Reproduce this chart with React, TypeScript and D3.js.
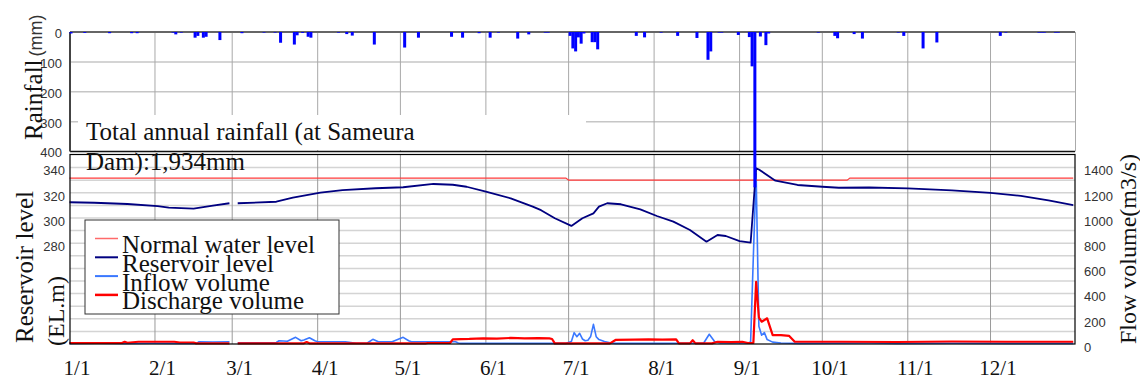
import React from "react";
import * as d3 from "d3";

const W = 1140;
const H = 380;

// x axis: day index from Jan 1 (0) to Dec 31 (364)
const monthLabels = ["1/1", "2/1", "3/1", "4/1", "5/1", "6/1", "7/1", "8/1", "9/1", "10/1", "11/1", "12/1"];
const monthStarts = [0, 31, 59, 90, 120, 151, 181, 212, 243, 273, 304, 334];

const rainTicks = [0, 100, 200, 300, 400];
const levelTicks = [280, 300, 320, 340];
const flowTicks = [0, 200, 400, 600, 800, 1000, 1200, 1400];
const flowGrid = [100, 200, 300, 400, 500, 600, 700, 800, 900, 1000, 1100, 1200, 1300, 1400];

// daily rainfall (mm): [day, mm]
const rainfall: [number, number][] = [
  [0, 5], [5, 3], [14, 4], [22, 4], [24, 4], [37, 2], [38, 8], [40, 2], [45, 19], [46, 13],
  [48, 19], [49, 16], [54, 27], [62, 4], [70, 2], [74, 2], [76, 36], [81, 42], [82, 11],
  [84, 3], [86, 16], [87, 19], [97, 2], [100, 7], [102, 12], [110, 42], [121, 52], [126, 19],
  [138, 16], [142, 19], [148, 4], [152, 19], [155, 2], [162, 22], [166, 8], [172, 2], [173, 2],
  [181, 13], [182, 55], [183, 65], [184, 18], [185, 39], [186, 5], [189, 34], [190, 34], [191, 58],
  [205, 13], [208, 18], [214, 2], [220, 13], [227, 20], [231, 93], [232, 65], [235, 2], [236, 2],
  [242, 10], [246, 17], [247, 115], [248, 520], [250, 15], [252, 44], [253, 5], [271, 2],
  [277, 13], [278, 21], [284, 7], [287, 22], [300, 2], [302, 13], [309, 55], [314, 35],
  [337, 13], [339, 2], [351, 2], [352, 2], [353, 2], [357, 2], [358, 2],
];

// reservoir level (EL.m), null = no record
const reservoirLevel: [number, number | null][] = [
  [0, 312.5], [9, 312.1], [21, 311.1], [32, 309.5], [36, 308.2], [45, 307.4], [52, 309.8], [58, 311.7],
  [59, null], [61, 311.7], [75, 312.9], [81, 316.1], [91, 320.1], [99, 322.2], [111, 323.6], [121, 324.4],
  [132, 327], [139, 326.4], [144, 324.8], [151, 320.9], [160, 315.6], [168, 309], [171, 306.2],
  [176, 299.8], [182, 293.7], [186, 299.8], [190, 303.7], [192, 309], [195, 311.7], [200, 310.9],
  [207, 306.9], [213, 301.6], [219, 297.1], [225, 290.5], [231, 281.2], [235, 286.5], [238, 285.7],
  [243, 281.7], [247, 280.4], [249, 339.5], [250, 338.5], [256, 329.6], [264, 326.2], [273, 324.8],
  [279, 324], [290, 324.2], [304, 323.5], [320, 322], [334, 320], [345, 317.5], [355, 314], [364, 310.3],
];

// normal water level (EL.m)
const normalLevel: [number, number][] = [
  [0, 331.7], [180, 331.7], [181, 330.0], [282, 330.0], [283, 331.7], [364, 331.7],
];

// inflow volume (m3/s)
const inflow: [number, number | null][] = [
  [0, 5], [10, 6], [20, 4], [30, 6], [40, 5], [46, 5], [47, 18], [52, 16], [58, 18], [59, null],
  [61, 10], [70, 10], [75, 12], [76, 26], [79, 22], [82, 53], [84, 26], [85, 32], [87, 50], [89, 26],
  [90, 18], [100, 18], [104, 6], [108, 8], [110, 37], [112, 18], [117, 18], [121, 53], [123, 26],
  [124, 18], [140, 18], [141, 8], [142, 5], [160, 5], [180, 5], [182, 20], [183, 90], [184, 58],
  [185, 85], [186, 40], [187, 26], [188, 30], [189, 60], [190, 156], [191, 58], [192, 35], [194, 20],
  [196, 10], [198, 5], [215, 5], [230, 8], [232, 77], [234, 18], [236, 8], [246, 8], [247, 15],
  [248, 700], [249, 1350], [250, 140], [251, 70], [252, 90], [253, 35], [255, 15], [258, 8],
  [265, 5], [290, 8], [300, 5], [320, 6], [340, 5], [364, 5],
];

// discharge volume (m3/s)
const discharge: [number, number | null][] = [
  [0, 8], [19, 8], [20, 18], [21, 10], [22, 12], [25, 18], [38, 18], [40, 12], [45, 12], [46, 5],
  [58, 5], [59, null], [61, 5], [85, 5], [86, 15], [87, 5], [129, 5], [130, 8], [138, 8], [139, 37],
  [145, 40], [150, 45], [155, 42], [160, 48], [165, 45], [170, 47], [174, 45], [175, 40], [176, 5],
  [196, 5], [198, 32], [205, 35], [210, 37], [215, 35], [220, 37], [221, 5], [225, 5], [226, 30],
  [227, 5], [233, 5], [235, 18], [240, 15], [244, 18], [246, 8], [248, 8], [249, 494], [250, 210],
  [251, 177], [253, 204], [255, 71], [258, 71], [261, 64], [263, 18], [280, 18], [300, 16],
  [320, 20], [340, 18], [364, 18],
];

const legendItems = [
  { label: "Normal water level", color: "#ff6a6a", width: 1.5 },
  { label: "Reservoir level", color: "#000080", width: 2 },
  { label: "Inflow volume", color: "#3a78ff", width: 2 },
  { label: "Discharge volume", color: "#ff0000", width: 2.5 },
];

const SERIF = "Liberation Serif, serif";
const SANS = "Liberation Sans, Arial, sans-serif";

export default function App() {
  const x = d3.scaleLinear().domain([0, 365]).range([69.5, 1076]);
  const yRain = d3.scaleLinear().domain([0, 400]).range([32, 151.5]);
  const yFlow = d3.scaleLinear().domain([0, 1500]).range([344, 155]);
  const yLevel = d3.scaleLinear().domain([200, 350]).range([344, 155]);

  const left = 70;
  const right = 1075;
  const botTop = 154.5;
  const botBottom = 344;

  const levelLine = d3
    .line<[number, number | null]>()
    .defined((d) => d[1] != null)
    .x((d) => x(d[0]))
    .y((d) => yLevel(d[1] as number));
  const flowLine = d3
    .line<[number, number | null]>()
    .defined((d) => d[1] != null)
    .x((d) => x(d[0]))
    .y((d) => yFlow(d[1] as number));

  const legendX = 85;
  const legendY = 220;

  return (
    <svg
      width={W}
      height={H}
      style={{ position: "absolute", left: 0, top: 0, background: "#fff" }}
      xmlns="http://www.w3.org/2000/svg"
    >
      {/* ---------- lower panel: level & flow ---------- */}
      <rect x={left} y={botTop} width={right - left} height={botBottom - botTop} fill="#fff" />
      {flowGrid.map((v) => (
        <line key={"fg" + v} x1={left} x2={right} y1={yFlow(v)} y2={yFlow(v)} stroke="#d4d4d4" strokeWidth={1.5} />
      ))}
      {monthStarts.slice(1).map((d) => (
        <line key={"vg" + d} x1={x(d)} x2={x(d)} y1={botTop} y2={botBottom} stroke="#9a9a9a" strokeWidth={1} />
      ))}

      <path d={flowLine(inflow) ?? ""} fill="none" stroke="#3a78ff" strokeWidth={1.6} strokeLinejoin="round" />
      <path d={flowLine(discharge) ?? ""} fill="none" stroke="#ff0000" strokeWidth={2.2} strokeLinejoin="round" />
      <path d={levelLine(normalLevel) ?? ""} fill="none" stroke="#ff3b3b" strokeWidth={1.3} />
      <path d={levelLine(reservoirLevel) ?? ""} fill="none" stroke="#000080" strokeWidth={1.8} strokeLinejoin="round" />

      <rect x={left} y={botTop} width={right - left} height={botBottom - botTop} fill="none" stroke="#000" strokeWidth={1.2} />

      {/* legend */}
      <rect x={legendX} y={legendY} width={254} height={94} fill="#fff" stroke="#333" strokeWidth={1} />
      {legendItems.map((it, i) => {
        const ly = legendY + 18.5 + i * 18.8;
        return (
          <g key={it.label}>
            <line x1={legendX + 10} x2={legendX + 33} y1={ly} y2={ly} stroke={it.color} strokeWidth={it.width} />
            <text x={legendX + 37} y={ly + 14.5} fontFamily={SERIF} fontSize={25} fill="#111">
              {it.label}
            </text>
          </g>
        );
      })}

      {/* level axis labels */}
      {levelTicks.map((v) => (
        <text key={"lt" + v} x={65} y={yLevel(v) + 4.3} textAnchor="end" dominantBaseline="middle" fontFamily={SANS} fontSize={13} fill="#333">
          {v}
        </text>
      ))}
      {/* flow axis labels */}
      {flowTicks.map((v) => (
        <text key={"ft" + v} x={1084} y={yFlow(v) + 4.3} textAnchor="start" dominantBaseline="middle" fontFamily={SANS} fontSize={13} fill="#333">
          {v}
        </text>
      ))}

      {/* month labels */}
      {monthStarts.map((d, i) => (
        <text key={"ml" + d} x={x(d) + 7.5} y={375} textAnchor="middle" fontFamily={SERIF} fontSize={21} fill="#111">
          {monthLabels[i]}
        </text>
      ))}

      {/* ---------- upper panel: rainfall ---------- */}
      {rainTicks.slice(1, 4).map((v) => (
        <line key={"rg" + v} x1={left} x2={right} y1={yRain(v)} y2={yRain(v)} stroke="#c6c6c6" strokeWidth={1.5} />
      ))}
      {monthStarts.slice(1).map((d) => (
        <line key={"rvg" + d} x1={x(d)} x2={x(d)} y1={yRain(0)} y2={yRain(400)} stroke="#a8a8a8" strokeWidth={1} />
      ))}
      {/* annual total note */}
      <rect x={78} y={115} width={508} height={35} fill="#fff" />
      <line x1={right + 0.5} x2={right + 0.5} y1={yRain(0)} y2={yRain(400)} stroke="#aaa" strokeWidth={1} />
      <line x1={left} x2={right} y1={yRain(400)} y2={yRain(400)} stroke="#111" strokeWidth={1.5} />
      <line x1={left} x2={left} y1={yRain(0)} y2={yRain(400)} stroke="#444" strokeWidth={2} />
      <line x1={left} x2={right} y1={yRain(0)} y2={yRain(0)} stroke="#666" strokeWidth={2} />
      {rainTicks.map((v) => (
        <text key={"rt" + v} x={62} y={yRain(v) + 2.5} textAnchor="end" dominantBaseline="middle" fontFamily={SANS} fontSize={13} fill="#333">
          {v}
        </text>
      ))}
      {rainfall.map(([d, mm]) => (
        <rect key={"rb" + d} x={x(d)} y={yRain(0)} width={3} height={yRain(mm) - yRain(0)} fill="#0000ff" />
      ))}

      <text x={86} y={140} fontFamily={SERIF} fontSize={25} fill="#111">
        Total annual rainfall (at Sameura
      </text>
      <text x={86} y={170} fontFamily={SERIF} fontSize={25} fill="#111">
        Dam):1,934mm
      </text>

      {/* axis titles */}
      <text transform="translate(42,140) rotate(-90)" fontFamily={SERIF} fontSize={25} fill="#111">
        Rainfall
        <tspan fontFamily={SANS} fontSize={18} fill="#333" dx={3}>
          (mm)
        </tspan>
      </text>
      <text transform="translate(33,343) rotate(-90)" fontFamily={SERIF} fontSize={25} fill="#111">
        Reservoir level
      </text>
      <text transform="translate(64,346) rotate(-90)" fontFamily={SERIF} fontSize={24} fill="#111">
        (EL.m)
      </text>
      <text transform="translate(1136,249) rotate(-90)" textAnchor="middle" fontFamily={SERIF} fontSize={24} fill="#111">
        Flow volume(m3/s)
      </text>
    </svg>
  );
}
